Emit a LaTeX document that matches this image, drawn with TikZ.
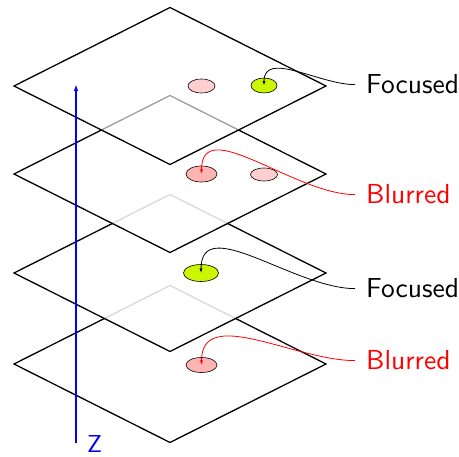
\documentclass[tikz,border=0pt]{standalone}
\usepackage{fontspec}
\newfontfamily\lblfont{lmsans10-regular.otf}
\usetikzlibrary{arrows.meta,shapes.geometric}
\definecolor{limeg}{RGB}{204,245,0}
\definecolor{pinkA}{RGB}{255,206,206}
\definecolor{pinkB}{RGB}{255,180,180}
\begin{document}
\begin{tikzpicture}[x=1pt,y=-1pt,
  plane/.style={draw=black,line width=1.3pt,fill=white,line join=miter},
  spot/.style={ellipse,draw=black,line width=0.6pt,inner sep=0pt},
  lbl/.style={font=\fontsize{27.5}{30}\selectfont\lblfont,inner sep=0pt,anchor=base west},
  conn/.style={line width=0.8pt,-{Latex[length=4.5pt,width=3pt]}},
  axis/.style={blue,line width=1.3pt,-{Latex[length=7pt,width=4.5pt]}}]
\path[use as bounding box] (0,0) rectangle (459,457);
% plane 4 (bottom)
\begin{scope}[shift={(0,364)}]
\draw[plane] (14,0) -- (170,-78.5) -- (326,0) -- (170,78.5) -- cycle;
\end{scope}
\node[spot,fill=pinkB,minimum width=31pt,minimum height=15pt] (e4) at (201.5,365) {};
% plane 3
\begin{scope}[shift={(0,273)}]
\draw[plane,fill opacity=0.85] (14,0) -- (170,-78.5) -- (326,0) -- (170,78.5) -- cycle;
\end{scope}
\node[spot,fill=limeg,minimum width=35pt,minimum height=17pt] (e3) at (201,273) {};
% plane 2
\begin{scope}[shift={(0,174)}]
\draw[plane,fill opacity=0.85] (14,0) -- (170,-78.5) -- (326,0) -- (170,78.5) -- cycle;
\end{scope}
\node[spot,fill=pinkB,minimum width=31pt,minimum height=16pt] (e2a) at (201.5,174) {};
\node[spot,fill=pinkA,minimum width=27pt,minimum height=13pt] (e2b) at (264,174.5) {};
% plane 1 (top)
\begin{scope}[shift={(0,86)}]
\draw[plane,fill opacity=0.62] (14,0) -- (170,-78.5) -- (326,0) -- (170,78.5) -- cycle;
\end{scope}
\node[spot,fill=pinkA,minimum width=27pt,minimum height=14pt] (e1a) at (201.5,86) {};
\node[spot,fill=limeg,minimum width=26pt,minimum height=15pt] (e1b) at (264,85.5) {};
% labels
\node[lbl] (L1) at (366,94) {Focused};
\node[lbl,text=red] (L2) at (366,204) {Blurred};
\node[lbl] (L3) at (366,298) {Focused};
\node[lbl,text=red] (L4) at (366,370) {Blurred};
% connectors
\draw[conn] ([xshift=-11pt]L1.west) to[out=180,in=90] (e1b.center);
\draw[conn,red] ([xshift=-11pt]L2.west) to[out=180,in=90] (e2a.center);
\draw[conn] ([xshift=-11pt]L3.west) to[out=180,in=90] (e3.center);
\draw[conn,red] ([xshift=-11pt]L4.west) to[out=180,in=90] (e4.center);
% axis
\coordinate (z0) at (76,443);
\coordinate (z1) at (76,84);
\draw[axis] (z0) -- (z1);
\node[lbl,text=blue,font=\fontsize{24.5}{28}\selectfont\lblfont] (Z) at (87,453) {Z};
\end{tikzpicture}
\end{document}
